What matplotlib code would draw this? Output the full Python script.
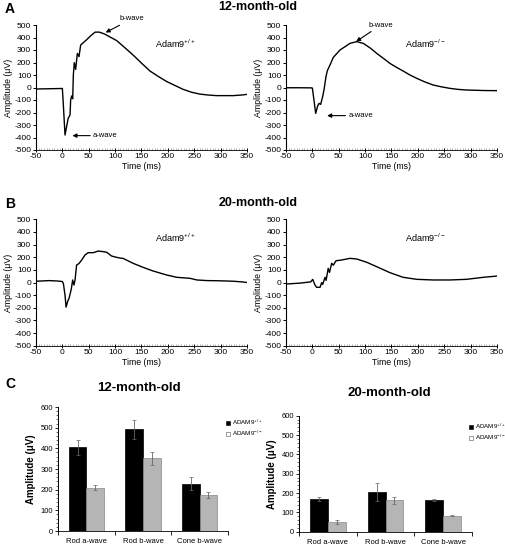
import matplotlib
matplotlib.use("Agg")
import matplotlib.pyplot as plt
from matplotlib.ticker import MultipleLocator
from matplotlib.patches import Patch

plt.rcParams['font.family'] = ['Liberation Sans', 'DejaVu Sans']
plt.rcParams['mathtext.fontset'] = 'custom'
plt.rcParams['mathtext.rm'] = 'Liberation Sans'
plt.rcParams['axes.unicode_minus'] = False

# ---------------- Data ----------------
# 12-month-old, Adam9+/+
t_12_wt = [-50, -25, -2, 0, 2, 5, 8, 11, 14.5, 15.7, 17.6, 19.6, 20.8, 22.6, 25.2, 28.4, 31.5, 34.7,
           40, 46, 54, 62, 70, 80, 90, 103, 118, 134, 150, 166, 182, 198, 214, 229, 245, 261, 276,
           292, 308, 324, 340, 350]
v_12_wt = [-12, -10, -8, -8, -150, -380, -313, -247, -220, -100, -68, -90, 100, 199, 145, 273, 247, 340,
           360, 382, 415, 443, 443, 428, 405, 375, 320, 260, 195, 132, 88, 47, 15, -15, -38, -53, -60,
           -65, -65, -65, -60, -55]
# 12-month-old, Adam9-/-
t_12_ko = [-50, -25, -1, 0, 3, 6.3, 10, 12.6, 15.7, 19.5, 22, 25.8, 28.4, 33.4, 39.7, 52.4, 71.3, 84,
           96.5, 110, 122, 135, 147, 160, 172, 185, 198, 213, 229, 245, 261, 276, 292, 308, 324, 340, 350]
v_12_ko = [-2, -2, -3, -5, -100, -207, -148, -127, -135, -73, -20, 87, 135, 180, 241, 300, 353, 367,
           353, 315, 273, 232, 193, 160, 132, 100, 73, 45, 20, 5, -7, -15, -20, -22, -24, -25, -25]
# 20-month-old, Adam9+/+
t_20_wt = [-50, -25, -10, 0, 2, 5, 7, 10, 13, 17, 19.5, 22, 24, 27, 31.5, 36.6, 43, 49, 58.7, 68, 77.6,
           84, 93.5, 106, 115.5, 134, 153, 172, 198, 217, 242, 255, 275, 293, 310, 324, 340, 350]
v_20_wt = [10, 15, 12, 8, -10, -100, -195, -150, -120, -50, 20, -20, 20, 138, 150, 178, 218, 236, 236,
           249, 244, 239, 209, 196, 190, 152, 120, 91, 59, 41, 33, 20, 15, 14, 12, 10, 5, 0]
# 20-month-old, Adam9-/-
t_20_ko = [-50, -23.5, -3, 0.6, 5, 8, 14.5, 17.6, 19.5, 24, 26, 30, 32.5, 36.6, 39.7, 44.8, 55.6, 71.3,
           84, 103, 122, 147, 172, 198, 229, 261, 292, 324, 350]
v_20_ko = [-12, -5, 5, 25, -20, -38, -38, -1, -15, 41, 17, 112, 80, 152, 137, 172, 178, 191,
           186, 160, 125, 78, 41, 25, 20, 20, 25, 41, 51]

# Bar charts
categories = ['Rod a-wave', 'Rod b-wave', 'Cone b-wave']
m12_wt = [405, 492, 228]
e12_wt = [37, 45, 32]
m12_ko = [210, 352, 173]
e12_ko = [12, 32, 14]
m20_wt = [169, 207, 165]
e20_wt = [8, 47, 6]
m20_ko = [50, 162, 83]
e20_ko = [8, 20, 3]

W, H = 506, 546
fig = plt.figure(figsize=(W / 100, H / 100), dpi=100)


def fr(x0, y0, x1, y1):
    return [x0 / W, 1 - y1 / H, (x1 - x0) / W, (y1 - y0) / H]


def erg_axes(rect, t, v, label, show_arrows, bwave, awave):
    ax = fig.add_axes(rect)
    ax.plot(t, v, color='black', lw=1.0)
    ax.set_xlim(-50, 350)
    ax.set_ylim(-500, 500)
    ax.set_xticks(range(-50, 351, 50))
    ax.set_yticks(range(-500, 501, 100))
    ax.xaxis.set_minor_locator(MultipleLocator(5))
    for s in ['top', 'right']:
        ax.spines[s].set_visible(False)
    ax.spines['left'].set_linewidth(0.8)
    ax.spines['bottom'].set_linewidth(0.6)
    ax.tick_params(axis='both', labelsize=6, length=2.5, width=0.7, pad=1)
    ax.tick_params(axis='x', direction='inout', length=3)
    ax.tick_params(axis='x', which='minor', direction='in', length=1.2, width=0.4, color='#777777')
    ax.set_xlabel('Time (ms)', fontsize=6.3, labelpad=1)
    ax.set_ylabel('Amplitude (\u03bcV)', fontsize=6.3, labelpad=1)
    ax.text(0.565, 0.82, label, transform=ax.transAxes, fontsize=6.5)
    if show_arrows:
        ap = dict(arrowstyle='-|>', color='black', lw=0.8, mutation_scale=6, shrinkA=0, shrinkB=0)
        ax.annotate('b-wave', xy=bwave[0], xytext=bwave[1], fontsize=5.5, ha='left', va='bottom',
                    arrowprops=ap)
        ax.annotate('a-wave', xy=awave[0], xytext=awave[1], fontsize=5.5, ha='left', va='center',
                    arrowprops=ap)
    return ax


erg_axes(fr(36, 25, 247, 150), t_12_wt, v_12_wt, 'Adam9$^{+/+}$', True,
         ((82, 440), (108, 520)), ((19, -385), (58, -385)))
erg_axes(fr(286, 25, 497, 150), t_12_ko, v_12_ko, 'Adam9$^{-/-}$', True,
         ((83, 368), (106, 470)), ((28, -225), (68, -225)))
erg_axes(fr(36, 219.3, 247, 345.7), t_20_wt, v_20_wt, 'Adam9$^{+/+}$', False, None, None)
erg_axes(fr(286, 219.3, 497, 345.7), t_20_ko, v_20_ko, 'Adam9$^{-/-}$', False, None, None)

fig.text(5 / W, 1 - 9 / H, 'A', fontsize=10, fontweight='bold', va='center')
fig.text(5 / W, 1 - 204 / H, 'B', fontsize=10, fontweight='bold', va='center')
fig.text(5 / W, 1 - 384 / H, 'C', fontsize=10, fontweight='bold', va='center')
fig.text(258 / W, 1 - 7 / H, '12-month-old', fontsize=9, fontweight='bold', ha='center', va='center')
fig.text(258 / W, 1 - 203 / H, '20-month-old', fontsize=9, fontweight='bold', ha='center', va='center')


def bar_axes(rect, mwt, ewt, mko, eko, title, title_xy, leg_anchor):
    ax = fig.add_axes(rect)
    x = list(range(len(categories)))
    w = 0.31
    ax.bar([i - w / 2 for i in x], mwt, w, yerr=ewt, color='black', edgecolor='black', lw=0.5,
           error_kw=dict(ecolor='#666666', elinewidth=0.6, capsize=1.2, capthick=0.5))
    ax.bar([i + w / 2 for i in x], mko, w, yerr=eko, color='#b5b5b5', edgecolor='#888888', lw=0.5,
           error_kw=dict(ecolor='#666666', elinewidth=0.6, capsize=1.2, capthick=0.5))
    ax.set_xlim(-0.5, 2.5)
    ax.set_ylim(0, 600)
    ax.set_yticks(range(0, 601, 100))
    ax.yaxis.set_minor_locator(MultipleLocator(20))
    ax.set_xticks([-0.5, 0.5, 1.5, 2.5])
    ax.set_xticklabels([])
    ax.set_xticks(x, minor=True)
    ax.set_xticklabels(categories, minor=True)
    ax.tick_params(axis='x', which='minor', length=0, labelsize=5.5, pad=5)
    ax.tick_params(axis='x', which='major', length=3, width=0.6)
    ax.tick_params(axis='y', which='major', labelsize=5.5, length=2.5, width=0.6, pad=1)
    ax.tick_params(axis='y', which='minor', length=1.5, width=0.4)
    for s in ['top', 'right']:
        ax.spines[s].set_visible(False)
    ax.spines['left'].set_linewidth(0.7)
    ax.spines['bottom'].set_linewidth(0.6)
    ax.set_ylabel('Amplitude (\u03bcV)', fontsize=7, fontweight='bold', labelpad=3)
    fig.text(title_xy[0] / W, 1 - title_xy[1] / H, title, fontsize=9.5, fontweight='bold',
             ha='center', va='center')
    handles = [Patch(facecolor='black', edgecolor='black', lw=0.4),
               Patch(facecolor='white', edgecolor='#555555', lw=0.4)]
    fig.legend(handles, ['ADAM9$^{+/+}$', 'ADAM9$^{-/-}$'], loc='upper left',
               bbox_to_anchor=(leg_anchor[0] / W, 1 - leg_anchor[1] / H), fontsize=4.5,
               frameon=False, handlelength=0.7, handleheight=0.7, handletextpad=0.2,
               labelspacing=0.25, borderpad=0, borderaxespad=0)
    return ax


bar_axes(fr(58, 407, 228, 531), m12_wt, e12_wt, m12_ko, e12_ko, '12-month-old', (139, 388), (226, 418))
bar_axes(fr(299, 415.7, 472, 531.7), m20_wt, e20_wt, m20_ko, e20_ko, '20-month-old', (389, 393), (469, 422))

fig.savefig('out.png', dpi=100)
